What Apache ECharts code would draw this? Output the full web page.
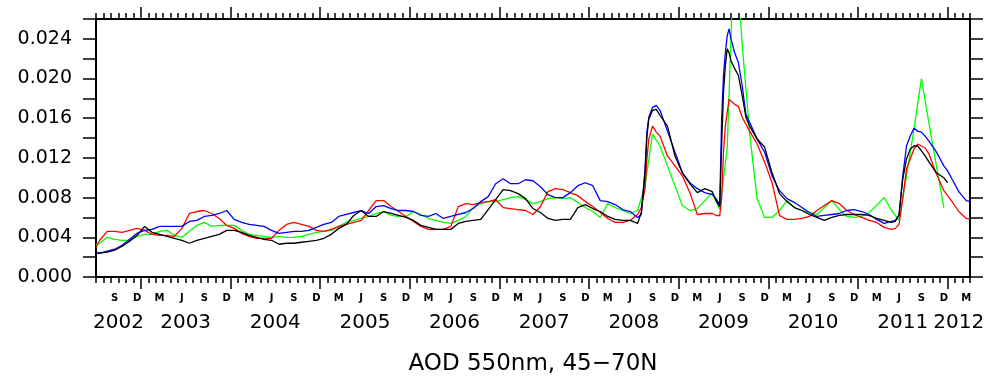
<!DOCTYPE html>
<html>
<head>
<meta charset="utf-8">
<script src="https://cdn.jsdelivr.net/npm/echarts@6/dist/echarts.min.js"></script>
<style>html,body{margin:0;padding:0;background:#fff}#c{width:987px;height:376px}</style>
</head>
<body>
<div id="c"></div>
<script>
// x positions: months since 1 Jan 2002 (fractional)
const months = [
 6,6.5,7.5,8.5,9.5,10.5,11.5,12.5,13.5,14.5,15.5,16.5,17.5,18.5,19.5,20.5,21.5,22.5,23.5,24.5,25.5,26.5,27.5,
 28.5,29.5,30.5,31.5,32.5,33.5,34.5,35.5,36.5,37.5,38.5,39.5,40.5,41.5,42.5,43.5,44.5,45.5,46.5,47.5,
 48.5,49.5,50.5,51.5,52.5,53.5,54.5,55.5,56.5,57.5,58.5,59.5,60.5,61.5,62.5,63.5,64.5,65.5,66.5,67.5,68.5,
 69.5,70.5,71.5,72.5,73.5,74.5,75.5,76.5,77.5,78.5,
 79,79.5,79.75,80,80.5,81,81.5,
 82.5,83.5,84.5,85.5,86.5,87.5,88.5,
 89,89.5,89.75,90,90.25,90.5,90.75,91,91.5,92,92.5,93,93.5,
 94.5,95.5,96.5,97.5,98.5,99.5,100.5,101.5,102.5,103.5,104.5,105.5,106.5,107.5,108.5,109.5,110.5,111.5,112.5,
 113,113.5,114,114.5,115,115.5,116,116.5,117,117.5,
 118.5,119.5,120,120.5,121.5,122.5,123
];
const blackVals = [
 .0024,.0024,.0025,.0027,.0031,.0036,.0042,.0051,.0045,.0043,.0041,.0039,.0037,.0034,.0037,.0039,.0041,.0043,.0047,.0047,.0045,.0042,.0040,
 .0038,.0037,.0033,.0034,.0034,.0035,.0036,.0037,.0039,.0043,.0049,.0053,.0062,.0067,.0061,.0061,.0066,.0064,.0062,.0060,
 .0057,.0052,.0050,.0048,.0048,.0048,.0054,.0056,.0057,.0058,.0068,.0078,.0088,.0087,.0084,.0079,.0069,.0065,.0059,.0057,.0058,
 .0058,.0070,.0073,.0069,.0066,.0061,.0058,.0057,.0057,.0054,
 .0065,.0105,.0142,.0159,.0168,.0169,.0163,
 .0152,.0122,.0105,.0094,.0085,.0089,.0086,
 .0077,.0071,.0132,.0186,.0213,.0230,.0226,.0218,.0210,.0203,.0183,.0161,.0152,
 .0139,.0131,.0105,.0084,.0076,.0070,.0067,.0063,.0060,.0057,.0060,.0062,.0063,.0063,.0063,.0062,.0059,.0057,.0055,
 .0056,.0063,.0099,.0119,.0129,.0132,.0132,.0127,.0122,.0116,
 .0105,.0100,.0095,null,null,null,null
];
const blueVals = [
 .0024,.0024,.0026,.0028,.0032,.0038,.0044,.0047,.0048,.0051,.0051,.0051,.0051,.0056,.0057,.0061,.0062,.0064,.0067,.0058,.0055,.0053,.0052,
 .0051,.0047,.0044,.0045,.0046,.0046,.0047,.0050,.0053,.0055,.0061,.0063,.0065,.0067,.0064,.0071,.0072,.0069,.0067,.0067,
 .0066,.0062,.0061,.0064,.0059,.0061,.0063,.0065,.0069,.0076,.0081,.0094,.0099,.0094,.0094,.0098,.0097,.0091,.0083,.0080,.0080,
 .0085,.0092,.0095,.0092,.0077,.0076,.0073,.0068,.0066,.0060,
 .0063,.0109,.0146,.0161,.0171,.0173,.0168,
 .0147,.0126,.0105,.0095,.0089,.0085,.0083,
 .0079,.0073,.0159,.0203,.0226,.0243,.0250,.0240,.0226,.0216,.0193,.0164,.0156,
 .0139,.0126,.0102,.0087,.0079,.0075,.0070,.0065,.0061,.0062,.0063,.0064,.0067,.0068,.0066,.0063,.0058,.0054,.0056,
 .0057,.0062,.0102,.0132,.0142,.0150,.0147,.0146,.0142,.0137,
 .0126,.0112,.0107,.0100,.0086,.0077,.0076
];
const redVals = [
 .0030,.0037,.0046,.0046,.0045,.0047,.0049,.0047,.0043,.0042,.0042,.0041,.0049,.0064,.0066,.0067,.0064,.0059,.0052,.0049,.0044,.0041,.0039,
 .0039,.0039,.0047,.0053,.0055,.0053,.0051,.0047,.0046,.0048,.0051,.0053,.0055,.0057,.0067,.0077,.0077,.0071,.0066,.0061,
 .0056,.0051,.0048,.0048,.0048,.0051,.0071,.0074,.0073,.0075,.0076,.0078,.0070,.0069,.0068,.0067,.0063,.0071,.0086,.0089,.0088,
 .0085,.0082,.0076,.0071,.0065,.0059,.0055,.0055,.0057,.0063,
 .0070,.0089,.0119,.0139,.0152,.0146,.0142,
 .0122,.0112,.0102,.0085,.0063,.0064,.0064,
 .0062,.0062,.0079,.0126,.0152,.0166,.0179,.0179,.0174,.0172,.0161,.0154,.0147,
 .0134,.0116,.0095,.0062,.0058,.0058,.0059,.0061,.0067,.0072,.0077,.0074,.0067,.0063,.0060,.0057,.0055,.0050,.0048,
 .0049,.0053,.0079,.0109,.0119,.0129,.0134,.0132,.0130,.0124,
 .0104,.0087,.0082,.0077,.0066,.0059,.0058
];
const greenVals = [
 .0033,.0034,.0040,.0038,.0037,.0037,.0041,.0043,.0043,.0046,.0047,.0042,.0040,.0046,.0052,.0055,.0051,.0052,.0052,.0052,.0047,.0043,.0042,
 .0041,.0040,.0041,.0040,.0040,.0041,.0043,.0045,.0046,.0047,.0051,.0055,.0057,.0059,.0061,.0064,.0066,.0062,.0061,.0061,
 .0066,.0063,.0059,.0057,.0055,.0054,.0057,.0061,.0070,.0074,.0076,.0076,.0078,.0080,.0081,.0078,.0074,.0076,.0079,.0080,.0079,
 .0080,.0075,.0070,.0066,.0060,.0074,.0070,.0067,.0064,.0067,
 null,.0092,null,null,.0144,null,.0132,
 .0112,.0092,.0072,.0067,.0069,.0077,.0085,
 null,.0068,null,null,null,.0130,null,null,.0350,null,.0235,null,.0145,
 .0079,.0060,.0060,.0067,.0077,.0070,.0067,.0065,.0063,.0070,.0077,.0068,.0061,.0060,.0061,.0065,.0072,.0080,.0067,
 null,.0057,null,.0102,null,.0149,null,.0200,null,.0155,
 .0112,.0070,null,null,null,null,null
];
// tick labels
const monthLetters = ['S','D','M','J'];
const yearLabels = ['2002','2003','2004','2005','2006','2007','2008','2009','2010','2011','2012'];
const yTickLabels = ['0.000','0.004','0.008','0.012','0.016','0.020','0.024'];
const titleText = 'AOD 550nm, 45\u221270N';

// axis positions derived from calendar
const X0 = 6, X1 = 123;
const monthTicks = []; for (let m = X0; m <= X1; m++) monthTicks.push(m);
const yearTicks = []; for (let m = 12; m < X1; m += 12) yearTicks.push(m);
const monthLabelPos = []; const monthLabelMap = {};
for (let i = 0, m = 8.5; m < X1; m += 3, i++) { monthLabelPos.push(m); monthLabelMap[m] = monthLetters[i % 4]; }
const yearLabelPos = []; const yearLabelMap = {};
yearLabels.forEach((y, i) => {
  const start = Math.max(X0, i * 12), end = Math.min(X1, (i + 1) * 12);
  const p = (start + end) / 2; yearLabelPos.push(p); yearLabelMap[p] = y;
});
const yMinor = []; for (let k = 0; k <= 13; k++) yMinor.push(+(k * 0.002).toFixed(3));

const FONT = 'DejaVu Sans';
const axLine = { show: true, onZero: false, lineStyle: { color: '#000', width: 2 } };
function xAx(pos, ticks, len, label) {
  return {
    type: 'value', min: X0, max: X1, position: pos, axisLine: axLine, splitLine: { show: false },
    axisTick: { show: true, inside: false, customValues: ticks, length: len, lineStyle: { color: '#000', width: 1.5 } },
    axisLabel: label || { show: false }
  };
}
const xAxes = [
  xAx('bottom', monthTicks, 6, { show: true, customValues: monthLabelPos, formatter: v => monthLabelMap[v] || '',
        margin: 16, fontSize: 10, fontWeight: 'bold', fontFamily: FONT, color: '#000' }),
  Object.assign(xAx('bottom', yearTicks, 12, { show: true, customValues: yearLabelPos, formatter: v => yearLabelMap[v] || '',
        margin: 36, fontSize: 20, fontFamily: FONT, color: '#000' }),
     { name: titleText, nameLocation: 'middle', nameGap: 76, nameTextStyle: { fontSize: 23, fontFamily: FONT, color: '#000' } }),
  xAx('top', monthTicks, 6),
  xAx('top', yearTicks, 12)
];
function yAx(pos, labels) {
  return {
    type: 'value', min: 0, max: 0.026, position: pos, axisLine: axLine, splitLine: { show: false },
    axisTick: { show: true, inside: false, customValues: yMinor, length: 13, lineStyle: { color: '#000', width: 1.5 } },
    axisLabel: labels ? { show: true, customValues: yTickLabels.map(Number), formatter: v => yTickLabels[Math.round(v / 0.004)],
        margin: 24, fontSize: 19, fontFamily: FONT, color: '#000' } : { show: false }
  };
}
const mk = (vals, color, z) => ({
  type: 'line', data: months.map((m, i) => [m, vals[i]]), xAxisIndex: 0, yAxisIndex: 0,
  showSymbol: false, symbol: 'none', connectNulls: true, clip: true, z: z,
  lineStyle: { color: color, width: 1.3 }, itemStyle: { color: color }
});
const chart = echarts.init(document.getElementById('c'), null, { renderer: 'canvas' });
chart.setOption({
  animation: false,
  backgroundColor: '#fff',
  grid: { left: 96, right: 17, top: 19, bottom: 99, containLabel: false, outerBoundsMode: 'none' },
  xAxis: xAxes,
  yAxis: [yAx('left', true), yAx('right', false)],
  series: [
    mk(greenVals, '#00ff00', 2),
    mk(redVals, '#ff0000', 3),
    mk(blueVals, '#0000ff', 4),
    mk(blackVals, '#000000', 5)
  ]
});
</script>
</body>
</html>
